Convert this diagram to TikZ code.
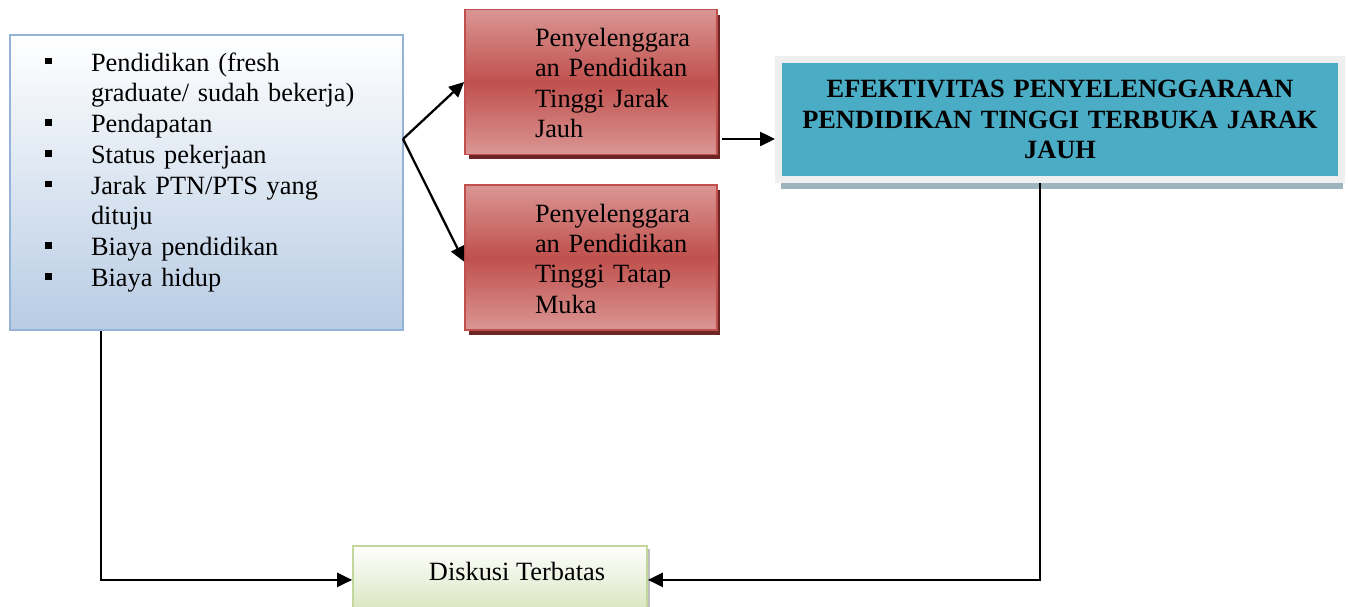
\documentclass[tikz,border=0pt]{standalone}
\usepackage{fontspec}
\setmainfont{Liberation Serif}
\usetikzlibrary{arrows.meta,positioning,shadows}
\definecolor{birubawah}{HTML}{B8CCE4}
\definecolor{birugaris}{HTML}{95B3D7}
\definecolor{merahmuda}{HTML}{DA9694}
\definecolor{merahtua}{HTML}{C0504D}
\definecolor{merahbayang}{HTML}{6E2624}
\definecolor{tosca}{HTML}{4BACC6}
\definecolor{abubingkai}{HTML}{EFEFEF}
\definecolor{toscabayang}{HTML}{9DB4BE}
\definecolor{hijaubawah}{HTML}{D7E4BD}
\definecolor{hijaugaris}{HTML}{C3D69B}
\newcommand{\kotakkecil}{\rule[3.8pt]{0.13cm}{0.13cm}}
\newcommand{\barispertama}{\rule{0pt}{16.5pt}}
\tikzset{
    kotakbiru/.style={rectangle,draw=birugaris,line width=1.2pt,top color=white,bottom color=birubawah,
        minimum width=7.86cm,minimum height=5.9cm,inner xsep=0.7cm,text width=6.46cm,
        font=\fontsize{15}{17.5}\selectfont},
    kotakmerah/.style={rectangle,draw=merahtua,line width=1pt,top color=merahmuda,bottom color=merahmuda,middle color=merahtua,
        minimum width=5.04cm,minimum height=2.9cm,inner xsep=0.2cm,text width=4.64cm,
        copy shadow={shadow xshift=0.07cm,shadow yshift=-0.1cm,fill=merahbayang,draw=none},
        font=\fontsize{15}{17.2}\selectfont},
    kotakjudul/.style={rectangle,draw=abubingkai,line width=0.14cm,fill=tosca,
        minimum width=11.26cm,minimum height=2.42cm,text width=10.6cm,align=center,
        copy shadow={shadow xshift=0.04cm,shadow yshift=-0.18cm,fill=toscabayang,draw=none},
        font=\fontsize{15}{17.2}\selectfont\bfseries},
    kotakhijau/.style={rectangle,draw=hijaugaris,line width=1pt,top color=white,bottom color=hijaubawah,
        minimum width=5.88cm,inner ysep=0pt,text height=0.7cm,text depth=0.66cm,
        copy shadow={shadow xshift=0.06cm,shadow yshift=-0.06cm,fill=black!25,draw=none},
        font=\fontsize{15}{17.2}\selectfont},
    panah/.style={-{Triangle[length=0.3cm,width=0.28cm]},line width=1.3pt}
}

\begin{document}
\begin{tikzpicture}[x=0.02cm,y=-0.02cm]

    \useasboundingbox (0,0) rectangle (1348,606);

    \node[kotakbiru] (faktor) at (206.5,182.5) {%
        \begin{tabular}{@{}p{0.92cm}@{}l@{}}
            \kotakkecil & Pendidikan (fresh\\
                        & graduate/ sudah bekerja)\\
            \kotakkecil & Pendapatan\\
            \kotakkecil & Status pekerjaan\\
            \kotakkecil & Jarak PTN/PTS yang\\
                        & dituju\\
            \kotakkecil & Biaya pendidikan\\
            \kotakkecil & Biaya hidup\\[0.4cm]
        \end{tabular}};

    \node[kotakmerah] (pjj) at (591,82) {%
        \hspace*{1.2cm}\begin{tabular}{@{}l@{}}\barispertama Penyelenggara\\an Pendidikan\\Tinggi Jarak\\Jauh\end{tabular}};
    \node[kotakmerah] (ptm) [below=0.58cm of pjj] {%
        \hspace*{1.2cm}\begin{tabular}{@{}l@{}}\barispertama Penyelenggara\\an Pendidikan\\Tinggi Tatap\\Muka\end{tabular}};

    \node[kotakjudul] (efektif) at (1060,119.5)
        {EFEKTIVITAS PENYELENGGARAAN\\PENDIDIKAN TINGGI TERBUKA JARAK\\JAUH};

    \node[kotakhijau] (diskusi) [anchor=north] at (500,545) {\hspace*{0.68cm}Diskusi Terbatas};

    \coordinate (cabang) at (403,139);
    \coordinate (keluar) at (722,139);

    \draw[panah] (cabang) -- (pjj.west);
    \draw[panah] (cabang) -- ([yshift=-0.08cm]ptm.west);
    \draw[panah] (keluar) -- (keluar -| efektif.west);
    \draw[panah] (efektif.south -| 1040,0) |- (diskusi.east);
    \draw[panah] (faktor.south -| 101,0) |- (diskusi.west);

\end{tikzpicture}
\end{document}
